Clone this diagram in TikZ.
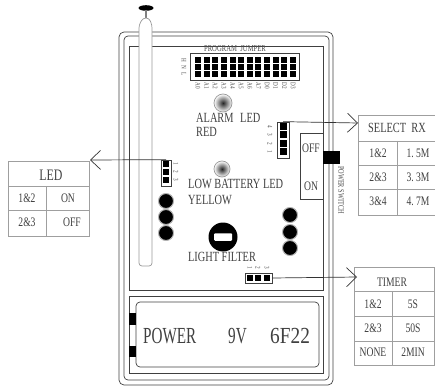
\documentclass[tikz,border=0pt]{standalone}
\usepackage{fontspec}
\newfontfamily\panelfont[FakeStretch=0.74]{Liberation Serif}
\newfontfamily\batteryfont[FakeStretch=0.66]{Liberation Serif}
\newfontfamily\digitfont[FakeStretch=0.84]{Liberation Serif}
\usetikzlibrary{%
    arrows.meta,%
    calc%
}
\tikzset{
    panelline/.style = {draw = black!75, line width = 0.7pt},
    gridline/.style = {draw = gray!75, line width = 0.8pt},
    pointer/.style = {draw = black!80, line width = 0.7pt, -{Straight Barb[length = 10pt, width = 19pt]}},
    label/.style = {inner sep = 0pt, text = black!75, font = \panelfont\fontsize{14}{14}\selectfont},
    cell/.style = {label, font = \panelfont\fontsize{13}{13}\selectfont},
    tiny/.style = {inner sep = 0pt, text = black!70, font = \panelfont\fontsize{7}{7}\selectfont},
    big/.style = {label, font = \batteryfont\fontsize{23}{23}\selectfont},
    pinbox/.style = {draw = black!75, fill = white, line width = 0.7pt, inner sep = 0pt},
    pin/.style = {fill = black, minimum size = 6pt, inner sep = 0pt},
    knob/.style = {circle, fill = black, draw = gray!60, line width = 1pt, minimum size = 15pt, inner sep = 0pt},
    led/.style = {circle, draw = gray!80, line width = 0.7pt, minimum size = 18pt, inner sep = 0pt,
        inner color = black!85, outer color = white}
}
\begin{document}
\begin{tikzpicture}[x = 1pt, y = -1pt]
    \useasboundingbox (0,0) rectangle (435,387);
    % Case outlines
    \draw[panelline, rounded corners = 5pt] (119,32) rectangle (333,385);
    \draw[panelline, rounded corners = 4pt] (124,36) rectangle (329,380);
    \draw[panelline] (129,46) rectangle (323,290);
    \draw[panelline] (129,296) rectangle (323,373);
    \draw[panelline, rounded corners = 4pt] (136,302) rectangle (319,367);

    % Antenna
    \fill[black] (146,8) ellipse (7.5pt and 2.8pt);
    \draw[gray, line width = 2pt] (146,10) -- (146,18);
    \draw[gray!80, fill = white, line width = 0.7pt, rounded corners = 3pt] (139,266) -- (139,25) -- (143,18) -- (149,18) -- (152,25) -- (152,266) -- cycle;

    % Program jumper
    \node[tiny, font = \panelfont\fontsize{9}{9}\selectfont] (jumpertitle) at (235,49) {PROGRAM\ \ JUMPER};
    \node[pinbox, minimum width = 109pt, minimum height = 27pt] (jumper) at (244.5,66.5) {};
    \foreach \i in {0,...,11} {
        \foreach \y in {60,67,74} {
            \node[pin] (jumperpin\i-\y) at ({198+8.64*\i},\y) {};
        }
    }
    \foreach \i/\txt in {0/A0,1/A1,2/A2,3/A3,4/A4,5/A5,6/A6,7/A7,8/D0,9/D1,10/D2,11/D3} {
        \node[tiny, rotate = -90] (jumperlabel\i) at ({198+8.64*\i},86) {\txt};
    }
    \foreach \y/\txt in {60/H,67/N,74/L} {
        \node[tiny, rotate = -90] (level\txt) at (184,\y) {\txt};
    }

    % LEDs and their captions
    \node[led] (alarmled) at (223,103) {};
    \node[label, anchor = west] (alarmtext) at (196,118) {ALARM\hspace{4pt} LED};
    \node[label, anchor = west] (redtext) at (196,132) {RED};
    \node[led, minimum size = 16pt] (batteryled) at (222,169) {};
    \node[label, anchor = west] (batterytext) at (188,184) {LOW BATTERY LED};
    \node[label, anchor = west] (yellowtext) at (188,200) {YELLOW};

    % Knobs
    \foreach \y in {201,217,233} {
        \node[knob] (leftknob\y) at (166,\y) {};
    }
    \foreach \y in {215,232,248} {
        \node[knob] (rightknob\y) at (290,\y) {};
    }
    \node[circle, fill = black, minimum size = 29pt, inner sep = 0pt] (filter) at (223,237) {};
    \node[fill = white, rounded corners = 1pt, minimum width = 18pt, minimum height = 7.5pt, inner sep = 0pt] (filterslot) at (223,237) {};
    \node[label] (filtertext) at (222,257) {LIGHT FILTER};

    % Power switch
    \node[panelline, fill = white, minimum width = 23pt, minimum height = 66pt, inner sep = 0pt] (switch) at (311.5,166) {};
    \node[cell] (offtext) at (311,148) {OFF};
    \node[cell] (ontext) at (311,186) {ON};
    \node[fill = black, minimum width = 17pt, minimum height = 13pt, inner sep = 0pt] (slider) at (331.5,157.5) {};
    \node[tiny, font = \panelfont\fontsize{8.5}{8.5}\selectfont, rotate = -90] (switchtext) at (341,190) {POWER SWITCH};

    % Battery
    \fill[black] (129,313) rectangle (136,325);
    \fill[black] (129,346) rectangle (136,357);
    \node[big, anchor = west] (powertext) at (143,336) {POWER};
    \node[big, anchor = west] (voltstext) at (228,336) {9V};
    \node[big, anchor = west, font = \digitfont\fontsize{23}{23}\selectfont] (typetext) at (270,336) {6F22};

    % Pin headers
    \node[pinbox, minimum width = 10pt, minimum height = 26pt] (ledpins) at (166,173) {};
    \foreach \y/\n in {164/1,172/2,180/3} {
        \node[pin] (ledpin\n) at (166,\y) {};
        \node[tiny, rotate = -90] (ledlabel\n) at (176,\y) {\n};
    }
    \node[pinbox, minimum width = 12pt, minimum height = 36pt] (rxpins) at (283,140) {};
    \foreach \y/\n in {127/4,135/3,144/2,152/1} {
        \node[pin, minimum size = 7pt] (rxpin\n) at (283,\y) {};
        \node[tiny, rotate = -90] (rxlabel\n) at (270,\y) {\n};
    }
    \node[pinbox, minimum width = 27pt, minimum height = 10pt] (timerpins) at (258.5,278) {};
    \foreach \x/\n in {250/1,258/2,267/3} {
        \node[pin] (timerpin\n) at (\x,278) {};
        \node[tiny, rotate = -90] (timerlabel\n) at (\x,268) {\n};
    }

    % LED table
    \coordinate (ledtip) at (90,160);
    \draw[gridline] (8,161) rectangle (89,236);
    \draw[gridline] (8,186) -- (89,186);
    \draw[gridline] (8,210) -- (89,210);
    \draw[gridline] (46,186) -- (46,236);
    \node[label, font = \panelfont\fontsize{16}{16}\selectfont] (ledtitle) at (51,175) {LED};
    \node[cell] (leda) at (27,198) {1\&2};
    \node[cell] (ledb) at (68,198) {ON};
    \node[cell] (ledc) at (27,222) {2\&3};
    \node[cell] (ledd) at (72,222) {OFF};
    \draw[pointer] (ledpins.north) -- (ledtip);

    % Select table
    \coordinate (rxtip) at (358,123);
    \draw[gridline] (435,115) -- (358,115) -- (358,215) -- (435,215);
    \draw[gridline] (358,141) -- (435,141);
    \draw[gridline] (358,165) -- (435,165);
    \draw[gridline] (358,189) -- (435,189);
    \draw[gridline] (397,141) -- (397,215);
    \node[label] (rxtitle) at (397,128) {SELECT\ \ RX};
    \foreach \y/\a/\b in {153/1\&2/1.\ 5M,177/2\&3/3.\ 3M,201/3\&4/4.\ 7M} {
        \node[cell] (rxa\y) at (378,\y) {\a};
        \node[cell] (rxb\y) at (418,\y) {\b};
    }
    \draw[pointer] (rxpins.north) -- (rxtip);

    % Timer table
    \coordinate (timertip) at (357,277);
    \draw[gridline] (354,267) rectangle (434,365);
    \draw[gridline] (354,291) -- (434,291);
    \draw[gridline] (354,316) -- (434,316);
    \draw[gridline] (354,341) -- (434,341);
    \draw[gridline] (392,291) -- (392,365);
    \node[cell] (timertitle) at (392,282) {TIMER};
    \foreach \y/\a/\b in {304/1\&2/5S,328/2\&3/50S,352/NONE/2MIN} {
        \node[cell] (timera\y) at (373,\y) {\a};
        \node[cell] (timerb\y) at (413,\y) {\b};
    }
    \draw[pointer] (timerpins.east) -- (timertip);
\end{tikzpicture}
\end{document}
